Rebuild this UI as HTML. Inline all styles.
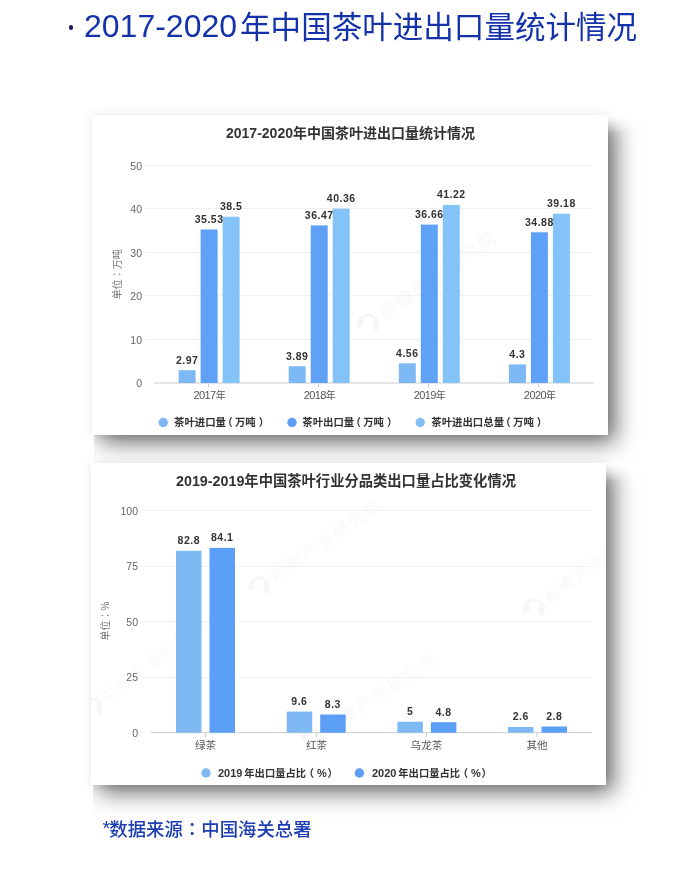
<!DOCTYPE html>
<html><head><meta charset="utf-8">
<style>
*{margin:0;padding:0;box-sizing:border-box}
html,body{width:700px;height:884px;background:#fff;overflow:hidden;position:relative;font-family:"Liberation Sans","Noto Sans CJK SC",sans-serif}
.h1{position:absolute;left:84px;top:4px;line-height:40px;color:#1432aa;white-space:nowrap}
.h1 .num{font-size:32px;font-family:"Liberation Sans",sans-serif}
.h1 .cjk{font-size:30.55px;font-family:"Noto Sans CJK SC",sans-serif;margin-left:3px;position:relative;top:1px}
.dot{position:absolute;left:68.5px;top:25.3px;width:4.3px;height:4.3px;border-radius:50%;background:#15186a}
.star{position:relative;top:-1px;font-size:20px;font-family:"Liberation Sans",sans-serif;margin-right:-1px}
.fade{position:absolute;width:40px;height:18px;background:linear-gradient(to bottom,rgba(255,255,255,0.9),rgba(255,255,255,0))}
.tc{font-family:"Noto Sans CJK TC",sans-serif}
.card{position:absolute;background:#fff}
#c1,#s1{left:92px;top:115px;width:516px;height:319.5px}
#c2,#s2{left:91px;top:463px;width:515px;height:322px}
.card{box-shadow:0 0 10px rgba(0,0,0,0.1)}
.sh{position:absolute;background:#fff;box-shadow:7.5px 7.5px 22px -0.5px rgba(0,0,0,0.6);clip-path:inset(0 -60px -60px 2px)}
svg{position:absolute;left:0;top:0}
.foot{position:absolute;left:102.5px;top:814.8px;font-size:18.4px;line-height:26px;color:#1d3db0;font-weight:500;white-space:nowrap}
</style></head><body>
<div class="dot"></div><div class="h1"><span class="num">2017-2020</span><span class="cjk">年中国茶叶进出口量统计情况</span></div>
<div class="sh" id="s1"></div><div class="card" id="c1"></div>
<div class="sh" id="s2"></div><div class="card" id="c2"></div>
<div class="fade" style="left:608px;top:115px"></div><div class="fade" style="left:606px;top:463px"></div>
<svg width="700" height="884" viewBox="0 0 700 884" font-family="Liberation Sans, Noto Sans CJK SC, sans-serif">
<defs><clipPath id="k1"><rect x="92" y="115" width="516" height="319"/></clipPath><clipPath id="k2"><rect x="91" y="463" width="516" height="322"/></clipPath></defs><g id="wm"><g clip-path="url(#k1)"><g transform="translate(368,324) rotate(-35)" opacity="0.035" fill="#000"><path d="M-11,-2 A11,11 0 1 1 2,11 L2,3 A5,5 0 1 0 -3,-2 Z"/><text x="16" y="6" font-size="17" letter-spacing="3">前瞻产业研究院</text></g></g><g clip-path="url(#k2)"><g transform="translate(259,587) rotate(-35)" opacity="0.03" fill="#000"><path d="M-11,-2 A11,11 0 1 1 2,11 L2,3 A5,5 0 1 0 -3,-2 Z"/><text x="16" y="6" font-size="16" letter-spacing="3">前瞻产业研究院</text></g><g transform="translate(534,609) rotate(-38)" opacity="0.03" fill="#000"><path d="M-11,-2 A11,11 0 1 1 2,11 L2,3 A5,5 0 1 0 -3,-2 Z"/><text x="16" y="6" font-size="15" letter-spacing="3">前瞻产业研究院</text></g><g transform="translate(92,708) rotate(-38)" opacity="0.028" fill="#000"><path d="M-11,-2 A11,11 0 1 1 2,11 L2,3 A5,5 0 1 0 -3,-2 Z"/><text x="16" y="6" font-size="15" letter-spacing="3">前瞻产业研究院</text></g><g transform="translate(312,738) rotate(-33)" opacity="0.028" fill="#000"><path d="M-11,-2 A11,11 0 1 1 2,11 L2,3 A5,5 0 1 0 -3,-2 Z"/><text x="16" y="6" font-size="16" letter-spacing="3">前瞻产业研究院</text></g></g></g>
<!-- chart 1 -->
<text x="350.5" y="137.5" text-anchor="middle" font-size="14" font-weight="bold" fill="#333">2017-2020年中国茶叶进出口量统计情况</text>
<g stroke="#f1f1f1" stroke-width="1">
<line x1="145" x2="592" y1="165.5" y2="165.5"/>
<line x1="145" x2="592" y1="208.5" y2="208.5"/>
<line x1="145" x2="592" y1="252.5" y2="252.5"/>
<line x1="145" x2="592" y1="295.5" y2="295.5"/>
<line x1="145" x2="592" y1="339.5" y2="339.5"/>
</g>
<line x1="154" x2="594" y1="383" y2="383" stroke="#ccc" stroke-width="1"/>
<g stroke="#ccc"><line x1="208.5" x2="208.5" y1="383" y2="387"/><line x1="318.5" x2="318.5" y1="383" y2="387"/><line x1="428.5" x2="428.5" y1="383" y2="387"/><line x1="538.5" x2="538.5" y1="383" y2="387"/></g>
<g font-size="10.5" fill="#666" text-anchor="end">
<text x="142" y="169.5">50</text><text x="142" y="213">40</text><text x="142" y="256.5">30</text><text x="142" y="300">20</text><text x="142" y="343.5">10</text><text x="142" y="387">0</text>
</g>
<text transform="translate(120.5,274.3) rotate(-90)" text-anchor="middle" font-size="10" fill="#777">单位<tspan font-family="Noto Sans CJK TC">：</tspan>万吨</text>
<g font-size="11" fill="#555" text-anchor="middle">
<text x="209.6" y="398.6"><tspan letter-spacing="-0.6">2017</tspan><tspan font-size="10">年</tspan></text><text x="319.7" y="398.6"><tspan letter-spacing="-0.6">2018</tspan><tspan font-size="10">年</tspan></text><text x="429.8" y="398.6"><tspan letter-spacing="-0.6">2019</tspan><tspan font-size="10">年</tspan></text><text x="539.9" y="398.6"><tspan letter-spacing="-0.6">2020</tspan><tspan font-size="10">年</tspan></text>
</g>
<g><rect x="178.6" y="370.2" width="17" height="12.8" fill="#7db9f4"/><rect x="200.6" y="229.5" width="17" height="153.5" fill="#5ea1f7"/><rect x="222.6" y="216.7" width="17" height="166.3" fill="#84c3f8"/><rect x="288.7" y="366.2" width="17" height="16.8" fill="#7db9f4"/><rect x="310.7" y="225.4" width="17" height="157.6" fill="#5ea1f7"/><rect x="332.7" y="208.6" width="17" height="174.4" fill="#84c3f8"/><rect x="398.8" y="363.3" width="17" height="19.7" fill="#7db9f4"/><rect x="420.8" y="224.6" width="17" height="158.4" fill="#5ea1f7"/><rect x="442.8" y="204.9" width="17" height="178.1" fill="#84c3f8"/><rect x="508.9" y="364.4" width="17" height="18.6" fill="#7db9f4"/><rect x="530.9" y="232.3" width="17" height="150.7" fill="#5ea1f7"/><rect x="552.9" y="213.7" width="17" height="169.3" fill="#84c3f8"/></g>
<g font-size="10.5" font-weight="bold" fill="#333" text-anchor="middle" letter-spacing="0.5"><text x="187.1" y="363.6">2.97</text><text x="209.1" y="222.9">35.53</text><text x="231.1" y="210.1">38.5</text><text x="297.2" y="359.6">3.89</text><text x="319.2" y="218.8">36.47</text><text x="341.2" y="202.0">40.36</text><text x="407.3" y="356.7">4.56</text><text x="429.3" y="218.0">36.66</text><text x="451.3" y="198.3">41.22</text><text x="517.4" y="357.8">4.3</text><text x="539.4" y="225.7">34.88</text><text x="561.4" y="207.1">39.18</text></g>
<!-- legend 1 -->
<circle cx="163.2" cy="422.5" r="4.7" fill="#7db6f0"/>
<circle cx="292" cy="422.5" r="4.7" fill="#5c9ef5"/>
<circle cx="420.2" cy="422.5" r="4.7" fill="#84c0f5"/>
<g font-size="10.4" font-weight="bold" fill="#333">
<text y="426"><tspan x="174.0">茶叶进口量</tspan><tspan x="222.2">（</tspan><tspan x="234.9">万吨</tspan><tspan x="258.7">）</tspan></text>
<text y="426"><tspan x="302.3">茶叶出口量</tspan><tspan x="350.5">（</tspan><tspan x="363.2">万吨</tspan><tspan x="387.0">）</tspan></text>
<text y="426"><tspan x="431.3">茶叶进出口总量</tspan><tspan x="500.3">（</tspan><tspan x="513.0">万吨</tspan><tspan x="536.8">）</tspan></text>
</g>

<!-- chart 2 -->
<text x="346" y="485.6" text-anchor="middle" font-size="14.3" font-weight="bold" fill="#333">2019-2019年中国茶叶行业分品类出口量占比变化情况</text>
<g stroke="#f1f1f1" stroke-width="1">
<line x1="143" x2="591" y1="510.5" y2="510.5"/>
<line x1="143" x2="591" y1="566.5" y2="566.5"/>
<line x1="143" x2="591" y1="621.5" y2="621.5"/>
<line x1="143" x2="591" y1="677.5" y2="677.5"/>
</g>
<line x1="151" x2="592" y1="732.7" y2="732.7" stroke="#ccc" stroke-width="1"/>
<g stroke="#ccc"><line x1="205.5" x2="205.5" y1="733" y2="737"/><line x1="316.5" x2="316.5" y1="733" y2="737"/><line x1="426.5" x2="426.5" y1="733" y2="737"/><line x1="537" x2="537" y1="733" y2="737"/></g>
<g font-size="10.5" fill="#666" text-anchor="end">
<text x="138" y="514.5">100</text><text x="138" y="570">75</text><text x="138" y="625.5">50</text><text x="138" y="681">25</text><text x="138" y="736.5">0</text>
</g>
<text transform="translate(109,621) rotate(-90)" text-anchor="middle" font-size="10" fill="#777">单位<tspan font-family="Noto Sans CJK TC">：</tspan>%</text>
<g font-size="10.6" fill="#555" text-anchor="middle">
<text x="205.5" y="749">绿茶</text><text x="316.5" y="749">红茶</text><text x="426.5" y="749">乌龙茶</text><text x="537" y="749">其他</text>
</g>
<g><rect x="176.0" y="550.8" width="25.5" height="181.9" fill="#7fb9f4"/><rect x="209.5" y="547.9" width="25.5" height="184.8" fill="#5c9ff7"/><rect x="286.7" y="711.6" width="25.5" height="21.1" fill="#7fb9f4"/><rect x="320.2" y="714.5" width="25.5" height="18.2" fill="#5c9ff7"/><rect x="397.4" y="721.7" width="25.5" height="11.0" fill="#7fb9f4"/><rect x="430.9" y="722.2" width="25.5" height="10.5" fill="#5c9ff7"/><rect x="508.0" y="727.0" width="25.5" height="5.7" fill="#7fb9f4"/><rect x="541.5" y="726.5" width="25.5" height="6.2" fill="#5c9ff7"/></g>
<g font-size="10.5" font-weight="bold" fill="#333" text-anchor="middle" letter-spacing="0.5"><text x="188.8" y="544.2">82.8</text><text x="222.2" y="541.3">84.1</text><text x="299.4" y="705.0">9.6</text><text x="332.9" y="707.9">8.3</text><text x="410.1" y="715.1">5</text><text x="443.6" y="715.6">4.8</text><text x="520.8" y="720.4">2.6</text><text x="554.2" y="719.9">2.8</text></g>
<circle cx="206" cy="773" r="4.7" fill="#7fb8f2"/>
<circle cx="359.4" cy="773" r="4.7" fill="#5c9ef5"/>
<g font-size="10.3" font-weight="bold" fill="#333">
<text y="777"><tspan x="218.0" font-size="11">2019</tspan><tspan x="244.3">年出口量占比</tspan><tspan x="303.8">（</tspan><tspan x="317.0" font-size="11">%</tspan><tspan x="327.5">）</tspan></text>
<text y="777"><tspan x="372.0" font-size="11">2020</tspan><tspan x="398.3">年出口量占比</tspan><tspan x="457.8">（</tspan><tspan x="471.0" font-size="11">%</tspan><tspan x="481.5">）</tspan></text>
</g>
</svg>
<div class="foot"><span class="star">*</span>数据来源<span class="tc">：</span>中国海关总署</div>
</body></html>
